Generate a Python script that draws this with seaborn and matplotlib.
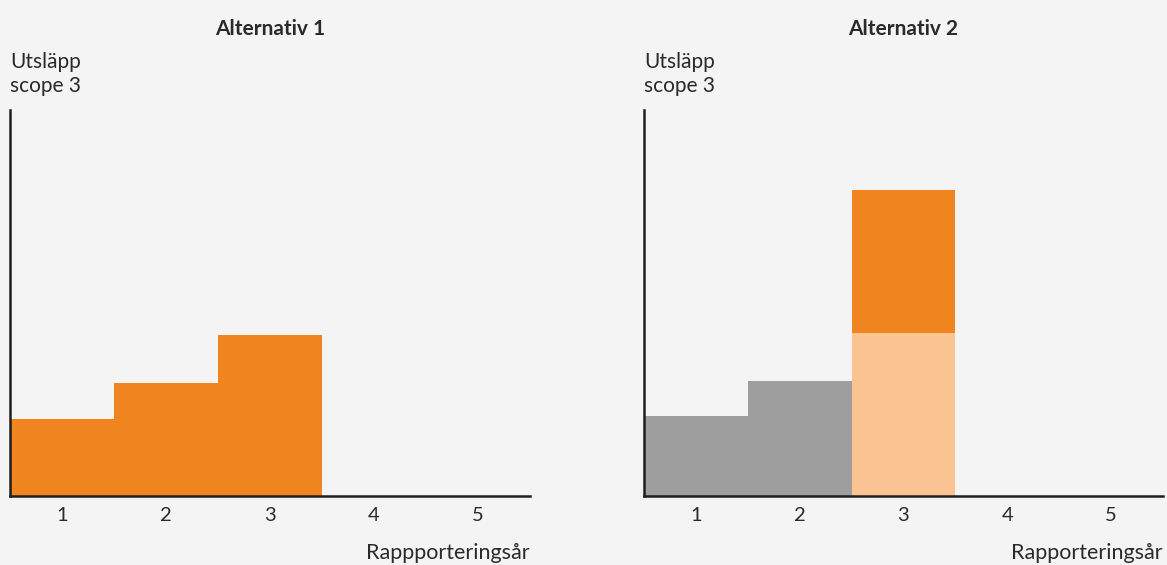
import pandas as pd
import seaborn as sns
import matplotlib.pyplot as plt

# Data (arbitrary emission units, axis 0-100)
years = ["1", "2", "3", "4", "5"]
alt1_values = [19.9, 29.3, 41.7, 0, 0]
alt2_base = [20.7, 29.8, 42.2, 0, 0]      # grey / light orange part
alt2_extra = [0, 0, 37.1, 0, 0]           # dark orange added on top in year 3

titles = ["Alternativ 1", "Alternativ 2"]
xlabels = ["Rappporteringsår", "Rapporteringsår"]
ylabel = "Utsläpp\nscope 3"

orange = "#F0841F"
light_orange = "#F9C492"
grey = "#9E9E9E"
bg = "#F4F4F4"
ink = "#1E1E1E"
txt = "#2A2A2A"

sns.set_theme(style="white")
plt.rcParams["font.family"] = ["Lato", "DejaVu Sans"]

fig = plt.figure(figsize=(11.67, 5.65), dpi=100, facecolor=bg)
ax1 = fig.add_axes([0.00857, 0.1221, 0.4456, 0.6832])
ax2 = fig.add_axes([0.5518, 0.1221, 0.4447, 0.6832])

# Alternativ 1
df1 = pd.DataFrame({"year": years, "value": alt1_values})
sns.barplot(data=df1, x="year", y="value", order=years, color=orange,
            width=1.0, linewidth=0, saturation=1, ax=ax1)

# Alternativ 2: draw the totals first, then the base part on top
totals = [b + e for b, e in zip(alt2_base, alt2_extra)]
df2 = pd.DataFrame({"year": years, "total": totals, "base": alt2_base})
top_colors = {"1": grey, "2": grey, "3": orange, "4": orange, "5": orange}
base_colors = {"1": grey, "2": grey, "3": light_orange, "4": light_orange, "5": light_orange}
sns.barplot(data=df2, x="year", y="total", order=years, hue="year",
            palette=top_colors, legend=False, width=1.0, linewidth=0,
            saturation=1, ax=ax2)
sns.barplot(data=df2, x="year", y="base", order=years, hue="year",
            palette=base_colors, legend=False, width=1.0, linewidth=0,
            saturation=1, ax=ax2)

for ax, title, xl in zip([ax1, ax2], titles, xlabels):
    ax.set_facecolor(bg)
    ax.set_xlim(-0.5, 4.5)
    ax.set_ylim(0, 100)
    ax.set_yticks([])
    ax.set_xlabel("")
    ax.set_ylabel("")
    for s in ["top", "right"]:
        ax.spines[s].set_visible(False)
    for s in ["left", "bottom"]:
        ax.spines[s].set_color(ink)
        ax.spines[s].set_linewidth(1.8)
    ax.tick_params(axis="x", length=0, pad=8, labelsize=14.5, labelcolor=txt)
    ax.set_title(title, fontsize=15, fontweight="bold", color=txt,
                 pad=0, y=1.195)
    ax.text(0.0, 1.037, ylabel, transform=ax.transAxes, ha="left", va="bottom",
            fontsize=15, color=txt, linespacing=1.25)
    ax.text(1.0, -0.148, xl, transform=ax.transAxes, ha="right", va="center",
            fontsize=15.5, color=txt)

fig.savefig("out.png", dpi=100, facecolor=bg)
